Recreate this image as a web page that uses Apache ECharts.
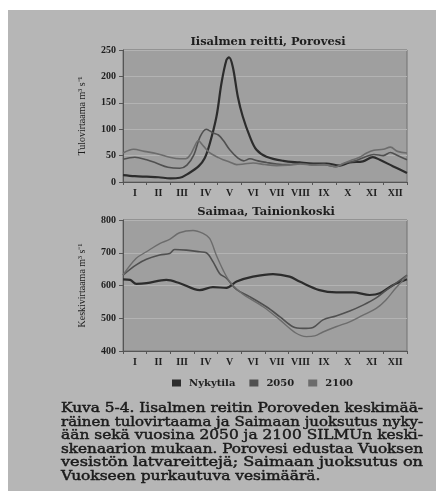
<!DOCTYPE html>
<html><head><meta charset="utf-8">
<script src="https://cdn.jsdelivr.net/npm/echarts@6/dist/echarts.min.js"></script>
<style>html,body{margin:0;padding:0;background:#fff}#c{width:436px;height:491px}</style>
</head><body><div id="c"></div>
<script>
// ---- data ----
const months = ['I','II','III','IV','V','VI','VII','VIII','IX','X','XI','XII'];
const seriesNames = ['Nykytila','2050','2100'];
const titleTop = 'Iisalmen reitti, Porovesi';
const titleBottom = 'Saimaa, Tainionkoski';
const yTicksTop = [0, 50, 100, 150, 200, 250];
const yTicksBottom = [400, 500, 600, 700, 800];

// Porovesi inflow (month position 0..12, m3/s)
const poroNowX = [0,0.5,1.0,1.5,2.0,2.4,2.8,3.2,3.45,3.65,3.95,4.16,4.37,4.48,4.64,4.85,5.06,5.36,5.64,6.06,6.77,7.46,8.03,8.6,9.15,9.58,10.14,10.56,10.85,11.4,12];
const poroNowY = [13,11,10,9,7,8,17,30,45,70,124,187,231,236,218,162,124,86,61,48,40,37,35,35,31,37,39,47,42,30,17];
const poro2050X = [0,0.5,1.0,1.4,1.9,2.4,2.7,3.0,3.25,3.52,3.8,4.03,4.25,4.51,4.86,5.1,5.36,5.7,6.06,6.5,7.0,7.5,8.0,8.5,9.0,9.4,9.8,10.2,10.6,11.0,11.3,11.6,12];
const poro2050Y = [43,47,42,36,28,26,32,52,85,100,93,89,78,61,45,40,44,40,37,34,33,35,33,33,29,36,40,47,52,50,56,50,42];
const poro2100X = [0,0.45,0.9,1.4,1.97,2.4,2.65,2.85,3.0,3.18,3.4,3.67,4.0,4.23,4.5,4.8,5.1,5.5,6.0,6.5,7.0,7.5,8.0,8.5,9.0,9.3,9.7,10.0,10.3,10.6,11.0,11.3,11.6,12];
const poro2100Y = [55,62,58,54,47,44,44,52,65,78,68,55,47,42,38,33,34,36,33,31,32,34,32,33,29,35,42,47,55,60,62,66,58,55];

// Saimaa discharge (month position 0..12, m3/s)
const saiNowX = [0,0.3,0.56,1.0,1.83,2.4,3.24,3.8,4.37,4.8,5.49,6.34,7.04,7.46,8.3,9.01,9.72,10.42,10.85,11.4,12];
const saiNowY = [619,617,605,607,617,607,586,595,593,612,627,635,627,612,586,579,579,571,576,601,619];
const sai2050X = [0,0.56,0.99,1.55,1.97,2.18,2.68,3.24,3.52,3.8,4.08,4.37,4.79,5.35,6.06,6.62,7.18,7.6,8.03,8.45,9.0,9.58,10.14,10.7,11.13,11.55,12];
const sai2050Y = [632,663,680,693,698,710,708,703,700,673,637,622,588,566,535,505,474,469,472,495,507,522,540,562,586,608,632];
const sai2100X = [0,0.56,0.99,1.55,1.97,2.39,2.96,3.38,3.66,3.94,4.23,4.51,4.95,5.22,5.92,6.63,7.3,7.75,8.1,8.45,9.0,9.6,10.1,10.7,11.1,11.5,12];
const sai2100Y = [632,683,703,728,741,761,768,759,744,693,647,612,580,566,535,495,455,444,446,458,474,490,508,530,555,590,630];

const captionLines = [
  'Kuva 5-4. Iisalmen reitin Poroveden keskimää-',
  'räinen tulovirtaama ja Saimaan juoksutus nyky-',
  'ään sekä vuosina 2050 ja 2100 SILMUn keski-',
  'skenaarion mukaan. Porovesi edustaa Vuoksen',
  'vesistön latvareittejä; Saimaan juoksutus on',
  'Vuokseen purkautuva vesimäärä.'
];

// ---- styling ----
const colNow = '#2c2c2c', col2050 = '#505050', col2100 = '#6c6c6c';
const pageBg = '#b6b6b6', plotBg = '#9f9f9f', txt = '#1e1e1e';
const serif = '"Liberation Serif", serif';
const wide = '"DejaVu Serif", serif';

function zip(xs, ys){ return xs.map((x,i)=>[x, ys[i]]); }

const chart = echarts.init(document.getElementById('c'), null, {renderer:'canvas'});

const grids = [
  {left:123, top:50, width:284, height:132, show:true, backgroundColor:plotBg, borderColor:'#707070', borderWidth:1},
  {left:123, top:220, width:284, height:131, show:true, backgroundColor:plotBg, borderColor:'#707070', borderWidth:1}
];

function catAxis(g){
  return {type:'category', gridIndex:g, data:months, boundaryGap:true,
    axisLine:{lineStyle:{color:'#555', width:1}},
    axisTick:{show:true, length:3, lineStyle:{color:'#555'}},
    axisLabel:{color:txt, fontFamily:serif, fontWeight:'bold', fontSize:10, margin:6, interval:0},
    splitLine:{show:false}};
}
function valX(g){
  return {type:'value', gridIndex:g, min:0, max:12, show:false};
}
function yAx(g, min, max, interval, name){
  return {type:'value', gridIndex:g, min, max, interval,
    name, nameLocation:'middle', nameGap:36, nameRotate:90,
    nameTextStyle:{color:txt, fontFamily:serif, fontSize:10},
    axisLine:{show:true, lineStyle:{color:'#555'}},
    axisTick:{show:true, length:4, lineStyle:{color:'#555'}},
    axisLabel:{color:txt, fontFamily:serif, fontWeight:'bold', fontSize:10, margin:7},
    splitLine:{show:true, lineStyle:{color:'#b3b3b3', width:1}}};
}

function line(name, xs, ys, xi, yi, color, w){
  return {name, type:'line', xAxisIndex:xi, yAxisIndex:yi, data:zip(xs,ys),
    smooth:0.35, showSymbol:false, symbol:'none', lineStyle:{color, width:w}, itemStyle:{color}};
}

// caption: each line stretched horizontally to the column width (justified look)
const graphics = [{type:'rect', shape:{x:8, y:10, width:428, height:481}, style:{fill:pageBg}, z:-10}];
const capFont = '13px "DejaVu Serif"';
const cv = document.createElement('canvas').getContext('2d');
cv.font = capFont;
const capLeft = 61, capRight = 423, capTop = 409, capStep = 13.5;
const scales = captionLines.map(ln => (capRight - capLeft) / cv.measureText(ln).width);
const avgScale = scales.slice(0, 5).reduce((a,b)=>a+b,0) / 5;
captionLines.forEach((ln, i) => {
  const y = capTop + i*capStep;
  const s = i === captionLines.length-1 ? avgScale : scales[i];
  graphics.push({type:'text', x:capLeft, y, scaleX:s, scaleY:1,
    style:{text:ln, x:0, y:0, font:capFont, fill:'#1a1a1a',
      stroke:'#1a1a1a', lineWidth:0.45, verticalAlign:'middle', align:'left'}});
});

chart.setOption({
  backgroundColor:'#ffffff',
  animation:false,
  title:[
    {text:titleTop, left:263, top:31, textAlign:'center', textStyle:{fontFamily:wide, fontWeight:'bold', fontSize:11.5, color:txt}},
    {text:titleBottom, left:261, top:201, textAlign:'center', textStyle:{fontFamily:wide, fontWeight:'bold', fontSize:11.5, color:txt}}
  ],
  grid:grids,
  xAxis:[catAxis(0), valX(0), catAxis(1), valX(1)],
  yAxis:[yAx(0,0,250,50,'Tulovirtaama m³ s⁻¹'), yAx(1,400,800,100,'Keskivirtaama m³ s⁻¹')],
  legend:{left:167, top:373, itemWidth:9, itemHeight:7, itemGap:14, icon:'rect',
    data:seriesNames,
    textStyle:{color:txt, fontFamily:wide, fontWeight:'bold', fontSize:10, padding:[0,0,0,3]}},
  series:[
    line(seriesNames[0], poroNowX, poroNowY, 1, 0, colNow, 2.2),
    line(seriesNames[1], poro2050X, poro2050Y, 1, 0, col2050, 1.6),
    line(seriesNames[2], poro2100X, poro2100Y, 1, 0, col2100, 1.6),
    line(seriesNames[0], saiNowX, saiNowY, 3, 1, colNow, 2.2),
    line(seriesNames[1], sai2050X, sai2050Y, 3, 1, col2050, 1.6),
    line(seriesNames[2], sai2100X, sai2100Y, 3, 1, col2100, 1.4)
  ],
  graphic:graphics
});
</script></body></html>
